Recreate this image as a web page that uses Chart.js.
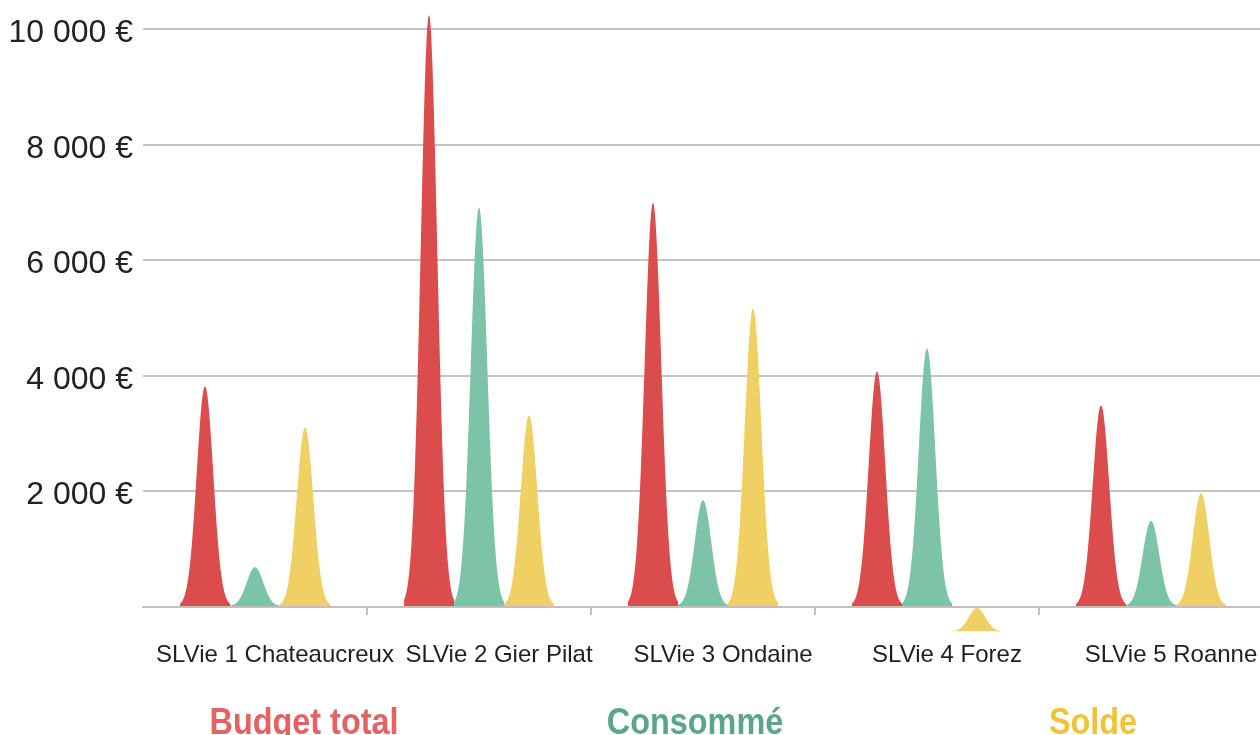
<!DOCTYPE html>
<html>
<head>
<meta charset="utf-8">
<script src="https://cdn.jsdelivr.net/npm/chart.js@4"></script>
<style>
  html, body { margin: 0; padding: 0; background: #fff; overflow: hidden; }
  #wrap { position: relative; width: 1260px; height: 735px; overflow: hidden; }
  #c { position: absolute; left: 0; top: 0; }
  .lg { position: absolute; top: 704px; font-family: "Liberation Sans", Arial, sans-serif;
        font-weight: bold; font-size: 36px; line-height: 36px; white-space: nowrap;
        transform: translateX(-50%) scaleX(0.9); }
</style>
</head>
<body>
<div id="wrap">
  <canvas id="c" width="1264" height="735"></canvas>
</div>
<script>
const categories = ["SLVie 1 Chateaucreux", "SLVie 2 Gier Pilat", "SLVie 3 Ondaine", "SLVie 4 Forez", "SLVie 5 Roanne"];
const seriesNames = ["Budget total", "Consommé", "Solde"];
const budgetTotal = [3820, 10250, 7000, 4080, 3490];
const consomme    = [690, 6920, 1850, 4480, 1490];
const solde       = [3110, 3320, 5170, -420, 1970];
const yTicks = [2000, 4000, 6000, 8000, 10000];

const peakColors = ["#db4c4c", "#7dc3a7", "#f0d062"];
const legendColors = ["#e36262", "#5aa687", "#efc43a"];
const legendCenters = [304, 695, 1093];

function fmt(v) {
  return String(v).replace(/\B(?=(\d{3})+(?!\d))/g, " ") + " €";
}

const peakPlugin = {
  id: "peaks",
  afterDatasetsDraw(chart) {
    const ctx = chart.ctx;
    chart.data.datasets.forEach((ds, i) => {
      const meta = chart.getDatasetMeta(i);
      meta.data.forEach(el => {
        const p = el.getProps(["x", "y", "base", "width"], true);
        const top = Math.min(p.y, p.base), bot = Math.max(p.y, p.base);
        const h = bot - top, hw = p.width / 2, sigma = 0.33;
        ctx.save();
        ctx.beginPath();
        const n = 60;
        ctx.moveTo(p.x - hw, bot);
        for (let k = 0; k <= n; k++) {
          const u = -1 + 2 * k / n;
          const f = Math.exp(-(u * u) / (2 * sigma * sigma));
          ctx.lineTo(p.x + u * hw, bot - h * f);
        }
        ctx.lineTo(p.x + hw, bot);
        ctx.closePath();
        ctx.fillStyle = peakColors[i];
        ctx.fill();
        ctx.restore();
      });
    });
  }
};

new Chart(document.getElementById("c"), {
  type: "bar",
  data: {
    labels: categories,
    datasets: [
      { label: seriesNames[0], data: budgetTotal },
      { label: seriesNames[1], data: consomme },
      { label: seriesNames[2], data: solde }
    ].map(d => Object.assign(d, { backgroundColor: "rgba(0,0,0,0)", borderWidth: 0,
                                  categoryPercentage: 0.67, barPercentage: 1.0 }))
  },
  options: {
    responsive: false,
    animation: false,
    events: [],
    layout: { padding: { top: 29, right: 1, left: 0, bottom: 0 } },
    plugins: { legend: { display: false }, tooltip: { enabled: false } },
    scales: {
      x: {
        afterFit(s) { s.height = 128; },
        grid: {
          drawOnChartArea: false, drawTicks: true, tickLength: 8, lineWidth: 2,
          color: c => (c.index === 0 || c.index === categories.length) ? "rgba(0,0,0,0)" : "#c0c0c0"
        },
        border: { display: true, color: "#c0c0c0", width: 2 },
        ticks: {
          font: { family: "'Liberation Sans', Arial, sans-serif", size: 24 },
          color: "#1f1f1f", padding: 26, labelOffset: 20, maxRotation: 0, autoSkip: false
        }
      },
      y: {
        min: 0, max: 10000,
        afterFit(s) { s.width = 143; },
        afterBuildTicks(s) { s.ticks = [0].concat(yTicks).map(v => ({ value: v })); },
        grid: {
          drawTicks: false, lineWidth: 2,
          color: c => (c.tick && c.tick.value === 0) ? "rgba(0,0,0,0)" : "#c4c4c4"
        },
        border: { display: false },
        ticks: {
          callback: v => v === 0 ? "" : fmt(v),
          font: { family: "'Liberation Sans', Arial, sans-serif", size: 32 },
          color: "#222", padding: 10, labelOffset: 4
        }
      }
    }
  },
  plugins: [peakPlugin]
});

const wrap = document.getElementById("wrap");
seriesNames.forEach((name, i) => {
  const d = document.createElement("div");
  d.className = "lg";
  d.textContent = name;
  d.style.color = legendColors[i];
  d.style.left = legendCenters[i] + "px";
  wrap.appendChild(d);
});
</script>
</body>
</html>
